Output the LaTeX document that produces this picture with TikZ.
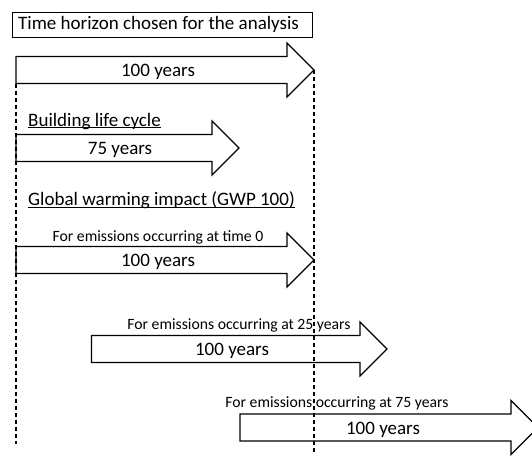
\documentclass[tikz,border=0pt]{standalone}
\usepackage{fontspec}
\setmainfont{Carlito}

\begin{document}
\begin{tikzpicture}[x=1pt, y=-1pt, span/.style={draw, line width=1.2pt, fill=white, line join=miter}, big/.style={font=\fontsize{19}{22}\selectfont, inner sep=0pt}, small/.style={font=\fontsize{15.7}{18}\selectfont, inner sep=0pt}, limit/.style={line width=1.1pt, dash pattern=on 4pt off 3pt}]
		\useasboundingbox (0,0) rectangle (532,455);
		
		\node[draw, line width=0.8pt, minimum width=300pt, minimum height=25pt, inner sep=0pt, anchor=north west] (hor) at (12,12) {};
		\node[big, anchor=base west] (hort) at (18,29.5) {Time horizon chosen for the analysis};
		
		% analysis horizon
		\draw[span] (16,56.5) -- (287,56.5) -- (287,43) -- (314,70) -- (287,97) -- (287,83.5) -- (16,83.5) -- cycle;
		\node[big, anchor=base] (y0) at (158,76.5) {100 years};
		
		% building life cycle
		\node[big, anchor=base west] (lc) at (28,126) {Building life cycle};
		\draw[line width=1pt] ([yshift=-1.5pt]lc.base west) -- ([yshift=-1.5pt]lc.base east);
		\draw[span] (16,134.5) -- (212,134.5) -- (212,121) -- (239,148) -- (212,175) -- (212,161.5) -- (16,161.5) -- cycle;
		\node[big, anchor=base] (y1) at (120,154.5) {75 years};
		
		% GWP 100
		\node[big, anchor=base west] (gwp) at (28,205.5) {Global warming impact (GWP 100)};
		\draw[line width=1pt] ([yshift=-1.5pt]gwp.base west) -- ([yshift=-1.5pt]gwp.base east);
		
		\draw[span] (16,246.5) -- (287,246.5) -- (287,233) -- (314,260) -- (287,287) -- (287,273.5) -- (16,273.5) -- cycle;
		\node[small, anchor=base] (e0) at (158,241) {For emissions occurring at time 0};
		\node[big, anchor=base] (y2) at (158,266.5) {100 years};
		
		\draw[span] (91.5,335.5) -- (360,335.5) -- (360,322) -- (387,349) -- (360,376) -- (360,362.5) -- (91.5,362.5) -- cycle;
		\node[small, anchor=base] (e25) at (239,329.5) {For emissions occurring at 25 years};
		\node[big, anchor=base] (y3) at (232,355.5) {100 years};
		
		\draw[span] (240,414) -- (511,414) -- (511,400.5) -- (538,427.5) -- (511,454.5) -- (511,441) -- (240,441) -- cycle;
		\node[small, anchor=base] (e75) at (337,407.5) {For emissions occurring at 75 years};
		\node[big, anchor=base] (y4) at (383,434) {100 years};
		
		% limits
		\coordinate (lt) at (16,83.5);
		\coordinate (lb) at (16,444);
		\coordinate (rt) at (314,70);
		\coordinate (rb) at (314,453);
		\draw[limit] (lt) -- (lb);
		\draw[limit] (rt) -- (rb);
		
	\end{tikzpicture}
\end{document}
